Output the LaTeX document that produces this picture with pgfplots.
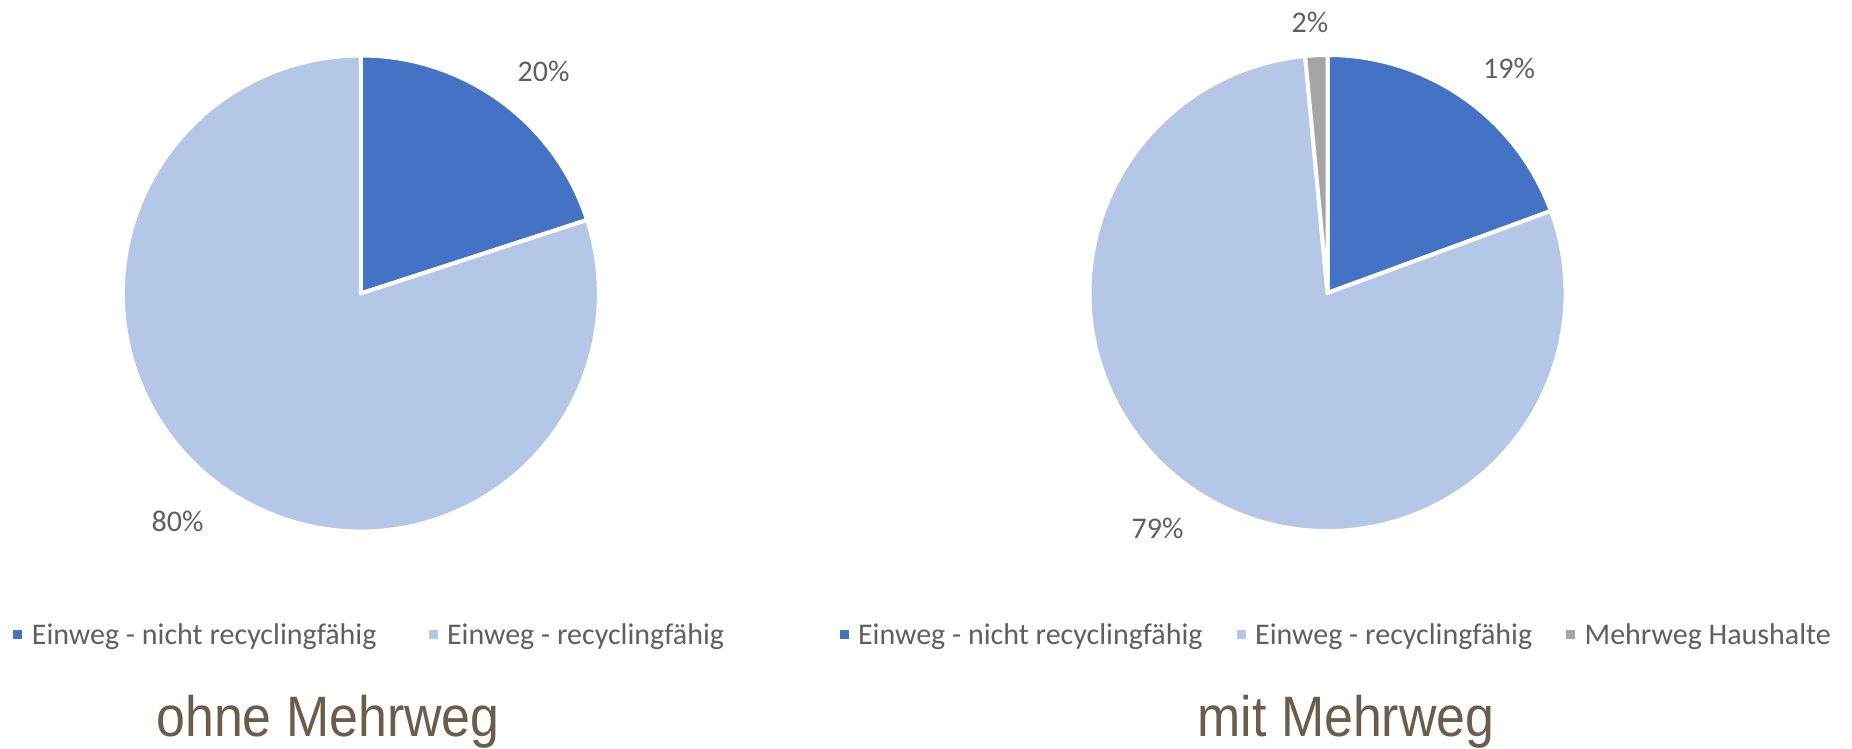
\documentclass[border=0pt]{standalone}
\usepackage{pgfplots}
\pgfplotsset{compat=1.18}
\usepackage{fontspec}
\newfontfamily\calib{Carlito}
\newfontfamily\titlefont[FakeStretch=0.91]{Liberation Sans}
\definecolor{blueA}{RGB}{68,114,196}
\definecolor{lightA}{RGB}{180,199,231}
\definecolor{grayA}{RGB}{165,165,165}
\definecolor{textgray}{RGB}{95,95,95}
\definecolor{titlebrown}{RGB}{108,92,74}
\newcommand\legfont{\fontsize{15pt}{17.5pt}\calib}
\pgfplotsset{
  pieaxis/.style={
    anchor=center, x=119pt, y=119pt,
    xmin=-1, xmax=1, ymin=-1, ymax=1,
    hide axis, clip=false,
    legend columns=-1, legend cell align=left,
    legend image code/.code={\fill[##1] (0pt,-1.6pt) rectangle (4.5pt,2.9pt);},
    legend style={anchor=west, draw=none, fill=none, inner sep=0pt,
      font=\legfont, text=textgray,
      nodes={inner xsep=0pt, inner ysep=1pt},
      /tikz/every odd column/.append style={column sep=4.75pt}},
  },
}
% slices: value/colour, drawn clockwise from 12 o'clock
\newcommand\pieslices[1]{%
  \pgfplotsextra{%
    \gdef\startang{90}%
    \foreach \v/\c in {#1} {%
      \pgfmathsetmacro\endang{\startang-3.6*\v}%
      \fill[\c, draw=white, line width=2pt, line join=round]
        (axis cs:0,0) -- (axis cs:{cos(\startang)},{sin(\startang)})
        arc[start angle=\startang, end angle=\endang, radius=119pt] -- cycle;
      \xdef\startang{\endang}%
    }%
  }%
}
\begin{document}
\begin{tikzpicture}
\useasboundingbox (0,0) rectangle (926pt,374.5pt);
% ---------------- ohne Mehrweg ----------------
\begin{axis}[pieaxis, at={(180.4pt,227.75pt)},
  legend style={at={(-0.2307,-0.2185)},
    /tikz/every even column/.append style={column sep=26pt}}]
\addlegendimage{fill=blueA, draw=none}
\addlegendentry{Einweg - nicht recyclingfähig}
\addlegendimage{fill=lightA, draw=none}
\addlegendentry{Einweg - recyclingfähig}
\pieslices{20/blueA, 80/lightA}
\node[font=\legfont, text=textgray] at (axis cs:0.768,0.935) {20\%};
\node[font=\legfont, text=textgray] at (axis cs:-0.770,-0.956) {80\%};
\end{axis}
% ---------------- mit Mehrweg ----------------
\begin{axis}[pieaxis, at={(663.75pt,228pt)},
  legend style={at={(-0.526,-0.2195)},
    /tikz/every even column/.append style={column sep=17pt}}]
\addlegendimage{fill=blueA, draw=none}
\addlegendentry{Einweg - nicht recyclingfähig}
\addlegendimage{fill=lightA, draw=none}
\addlegendentry{Einweg - recyclingfähig}
\addlegendimage{fill=grayA, draw=none}
\addlegendentry{Mehrweg Haushalte}
\pieslices{19.4/blueA, 79.1/lightA, 1.5/grayA}
\node[font=\legfont, text=textgray] at (axis cs:0.763,0.945) {19\%};
\node[font=\legfont, text=textgray] at (axis cs:-0.714,-0.987) {79\%};
\node[font=\legfont, text=textgray] at (axis cs:-0.074,1.137) {2\%};
\end{axis}
% ---------------- titles ----------------
\node[anchor=base, font=\fontsize{28.5pt}{31pt}\titlefont, text=titlebrown, inner sep=0pt] at (164pt,6.3pt) {ohne Mehrweg};
\node[anchor=base, font=\fontsize{28.5pt}{31pt}\titlefont, text=titlebrown, inner sep=0pt] at (673pt,6.3pt) {mit Mehrweg};
\end{tikzpicture}
\end{document}
